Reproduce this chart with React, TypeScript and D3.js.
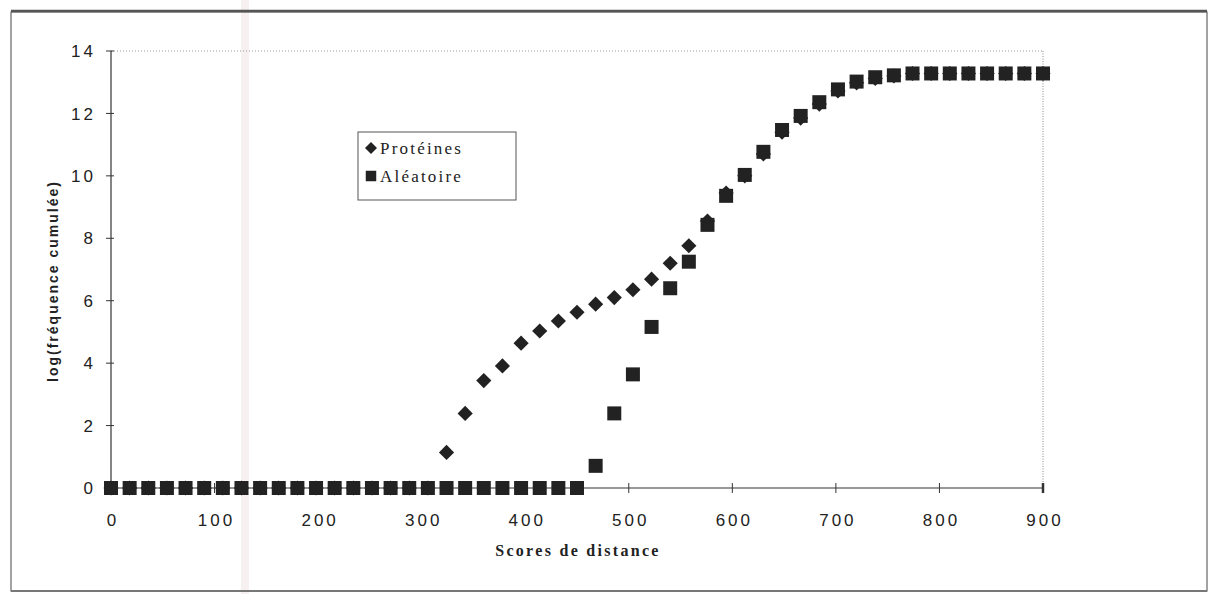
import React from 'react';
import * as d3 from 'd3';

// scores are sampled every 18 units from 0 to 900
const scores = d3.range(0, 901, 18);

const proteines = [
  0, 0, 0, 0, 0, 0, 0, 0, 0, 0, 0, 0, 0, 0, 0, 0, 0, 0,
  1.14, 2.39, 3.44, 3.91, 4.64, 5.03, 5.35, 5.63, 5.89, 6.1, 6.35, 6.69,
  7.2, 7.76, 8.55, 9.45, 10.0, 10.7, 11.4, 11.85, 12.3, 12.72, 12.98,
  13.12, 13.2, 13.28, 13.28, 13.28, 13.28, 13.28, 13.28, 13.28, 13.28
];

const aleatoire = [
  0, 0, 0, 0, 0, 0, 0, 0, 0, 0, 0, 0, 0, 0, 0, 0, 0, 0, 0, 0, 0, 0, 0, 0, 0, 0,
  0.71, 2.39, 3.64, 5.16, 6.4, 7.25, 8.43, 9.36, 10.03, 10.77, 11.47, 11.92,
  12.36, 12.77, 13.02, 13.16, 13.22, 13.28, 13.28, 13.28, 13.28, 13.28, 13.28,
  13.28, 13.28
];

const xTicks = [0, 100, 200, 300, 400, 500, 600, 700, 800, 900];
const yTicks = [0, 2, 4, 6, 8, 10, 12, 14];
const seriesNames = ['Protéines', 'Aléatoire'];

const W = 1217;
const H = 594;
const ink = '#222';

export default function App() {
  const x = d3.scaleLinear().domain([0, 900]).range([111, 1043]);
  const y = d3.scaleLinear().domain([0, 14]).range([488, 51]);

  const diamond = d3.symbol(d3.symbolSquare, 115)();
  const square = d3.symbol(d3.symbolSquare, 196)();

  const sans = '"Liberation Sans", Arial, sans-serif';
  const serif = '"Liberation Serif", "Times New Roman", serif';

  return (
    <svg width={W} height={H} style={{ position: 'absolute', left: 0, top: 0, background: '#fff' }}>
      <rect x={0} y={0} width={W} height={H} fill="#fff" />
      {/* scanner stripe */}
      <rect x={241} y={0} width={8} height={H} fill="#f4ecec" opacity={0.8} />

      {/* outer frame */}
      <rect x={11} y={12} width={1196} height={579} fill="none" stroke="#666" strokeWidth={1.2} />
      <line x1={11} x2={1207} y1={11} y2={11} stroke="#555" strokeWidth={2.5} />
      <line x1={11} x2={1207} y1={591} y2={591} stroke="#777" strokeWidth={2} />

      {/* plot area border, dotted */}
      <line x1={x(0)} x2={x(900)} y1={y(14)} y2={y(14)} stroke="#999" strokeDasharray="1 2" />
      <line x1={x(900)} x2={x(900)} y1={y(14)} y2={y(0)} stroke="#888" strokeDasharray="1 1.5" />

      {/* y axis */}
      <line x1={x(0)} x2={x(0)} y1={y(14)} y2={y(0)} stroke="#333" strokeWidth={1.2} />
      {yTicks.map((t) => (
        <g key={'y' + t}>
          <line x1={x(0) - 5} x2={x(0) + 3} y1={y(t)} y2={y(t)} stroke="#333" />
          <text x={96} y={y(t)} dy="0.36em" textAnchor="end" fontFamily={sans} fontSize={17}
            letterSpacing={3} fill={ink}>{t}</text>
        </g>
      ))}

      {/* x axis */}
      <line x1={x(0)} x2={x(900)} y1={y(0)} y2={y(0)} stroke="#333" strokeWidth={1.2} />
      {xTicks.map((t) => (
        <g key={'x' + t}>
          <line x1={x(t)} x2={x(t)} y1={y(0) - 5} y2={y(0) + 5} stroke="#333"
            strokeWidth={t === 900 ? 2.5 : 1} />
          <text x={x(t) + 2} y={526} textAnchor="middle" fontFamily={sans} fontSize={17}
            letterSpacing={3} fill={ink}>{t}</text>
        </g>
      ))}

      <text x={578} y={556} textAnchor="middle" fontFamily={serif} fontWeight="bold" fontSize={16}
        letterSpacing={2.3} fill={ink}>Scores de distance</text>
      <text transform={`translate(53,${281}) rotate(-90)`} dy="0.35em" textAnchor="middle"
        fontFamily={sans} fontWeight="bold" fontSize={14} letterSpacing={2} fill={ink}>
        log(fréquence cumulée)
      </text>

      {/* series */}
      <g fill={ink}>
        {scores.map((s, i) => (
          <path key={'p' + i} d={diamond} transform={`translate(${x(s)},${y(proteines[i])}) rotate(45)`} />
        ))}
        {scores.map((s, i) => (
          <path key={'a' + i} d={square} transform={`translate(${x(s)},${y(aleatoire[i])})`} />
        ))}
      </g>

      {/* legend */}
      <rect x={358} y={132} width={158} height={68} fill="#fff" stroke="#555" strokeWidth={1} />
      <path d={d3.symbol(d3.symbolSquare, 72)()} transform="translate(371,148) rotate(45)" fill={ink} />
      <text x={380} y={148} dy="0.35em" fontFamily={serif} fontSize={17} letterSpacing={2.2} fill={ink}>
        {seriesNames[0]}
      </text>
      <path d={d3.symbol(d3.symbolSquare, 110)()} transform="translate(371,176)" fill={ink} />
      <text x={380} y={176} dy="0.35em" fontFamily={serif} fontSize={17} letterSpacing={2.2} fill={ink}>
        {seriesNames[1]}
      </text>
    </svg>
  );
}
